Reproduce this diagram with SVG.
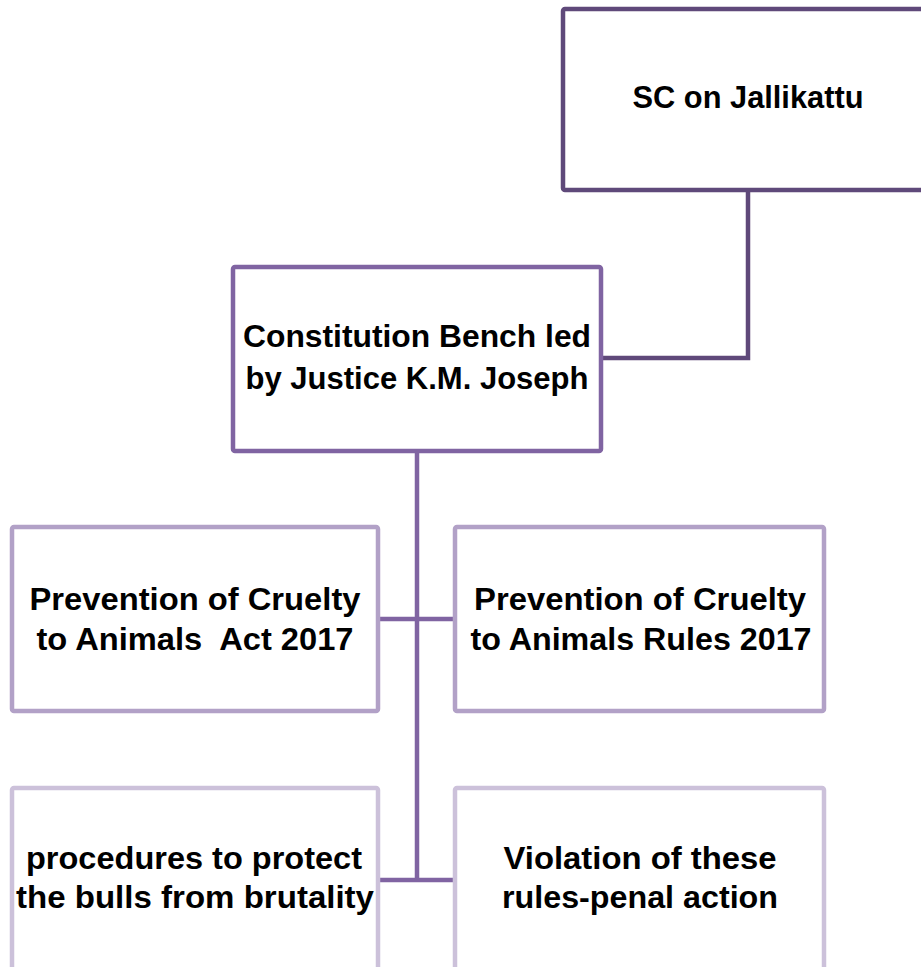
<svg xmlns="http://www.w3.org/2000/svg" width="921" height="967" viewBox="0 0 921 967">
<style>
.box{fill:#ffffff;stroke-width:4.5}
.b1{stroke:#5F497A}
.b2{stroke:#8064A2}
.b3{stroke:#B2A1C7}
.b4{stroke:#CCC1DA}
.lbl{font-family:"Liberation Sans",Arial,sans-serif;font-weight:bold;font-size:32px;fill:#000000;text-anchor:middle}
.c1{stroke:#5F497A;stroke-width:4.5;fill:none}
.c2{stroke:#8064A2;stroke-width:4.5;fill:none}
</style>
<rect width="921" height="967" fill="#ffffff"/>
<g id="connectors">
<polyline class="c1" points="748,190 748,358 601,358"/>
<line class="c2" x1="417" y1="451" x2="417" y2="880"/>
<line class="c2" x1="378" y1="619" x2="455" y2="619"/>
<line class="c2" x1="378" y1="880" x2="455" y2="880"/>
</g>
<g id="node-sc">
<rect class="box b1" x="563" y="9" width="380" height="181" rx="2"/>
<text class="lbl" x="748" y="108" textLength="231" lengthAdjust="spacingAndGlyphs">SC on Jallikattu</text>
</g>
<g id="node-bench">
<rect class="box b2" x="233" y="267" width="368" height="184" rx="2"/>
<text class="lbl" x="417" y="347" textLength="348" lengthAdjust="spacingAndGlyphs">Constitution Bench led</text>
<text class="lbl" x="417" y="389" textLength="343" lengthAdjust="spacingAndGlyphs">by Justice K.M. Joseph</text>
</g>
<g id="node-act">
<rect class="box b3" x="12" y="527" width="366" height="184" rx="2"/>
<text class="lbl" x="195" y="610" textLength="331" lengthAdjust="spacingAndGlyphs">Prevention of Cruelty</text>
<text class="lbl" x="195" y="650" textLength="317" lengthAdjust="spacingAndGlyphs" xml:space="preserve">to Animals  Act 2017</text>
</g>
<g id="node-rules">
<rect class="box b3" x="455" y="527" width="369" height="184" rx="2"/>
<text class="lbl" x="640" y="610" textLength="332" lengthAdjust="spacingAndGlyphs">Prevention of Cruelty</text>
<text class="lbl" x="641" y="650" textLength="341" lengthAdjust="spacingAndGlyphs">to Animals Rules 2017</text>
</g>
<g id="node-procedures">
<rect class="box b4" x="12" y="788" width="366" height="200" rx="2"/>
<text class="lbl" x="194" y="869" textLength="336" lengthAdjust="spacingAndGlyphs">procedures to protect</text>
<text class="lbl" x="195" y="908" textLength="358" lengthAdjust="spacingAndGlyphs">the bulls from brutality</text>
</g>
<g id="node-violation">
<rect class="box b4" x="455" y="788" width="369" height="200" rx="2"/>
<text class="lbl" x="640" y="869" textLength="273" lengthAdjust="spacingAndGlyphs">Violation of these</text>
<text class="lbl" x="640" y="908" textLength="276" lengthAdjust="spacingAndGlyphs">rules-penal action</text>
</g>
</svg>
